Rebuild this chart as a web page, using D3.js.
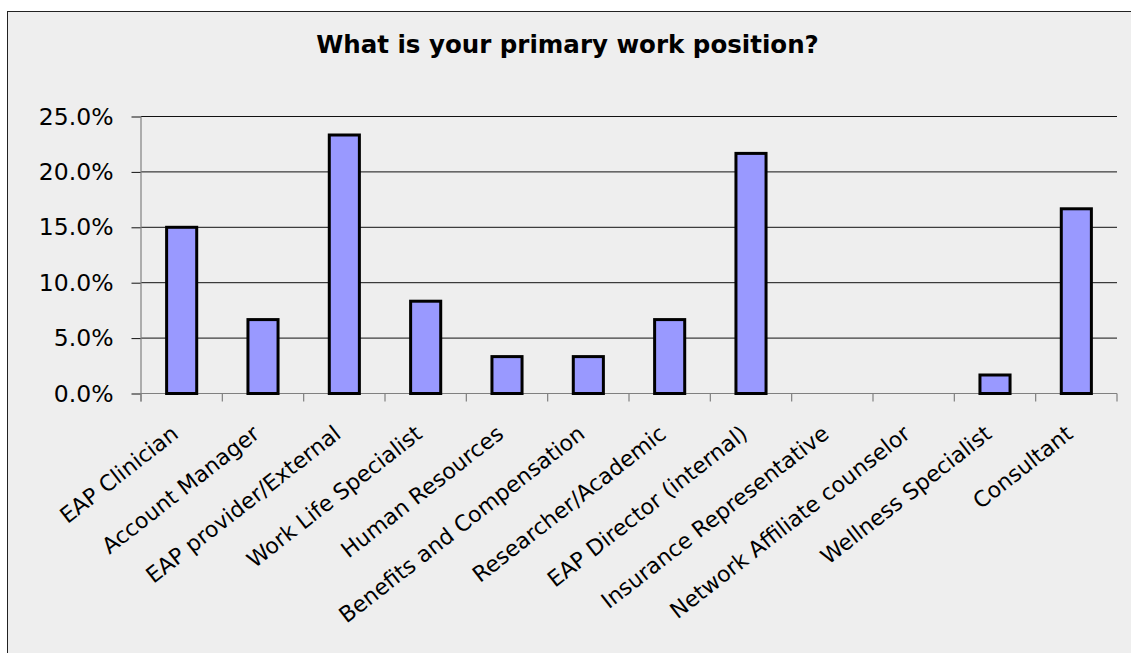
<!DOCTYPE html>
<html>
<head>
<meta charset="utf-8">
<script src="https://cdn.jsdelivr.net/npm/d3@7"></script>
<style>
  html, body { margin: 0; padding: 0; background: #ffffff; }
  svg { display: block; }
  text { font-family: "DejaVu Sans", Verdana, sans-serif; fill: #000; }
</style>
</head>
<body>
<svg id="chart" width="1131" height="653"></svg>
<script>
const title = "What is your primary work position?";
const categories = [
  "EAP Clinician", "Account Manager", "EAP provider/External", "Work Life Specialist",
  "Human Resources", "Benefits and Compensation", "Researcher/Academic", "EAP Director (internal)",
  "Insurance Representative", "Network Affiliate counselor", "Wellness Specialist", "Consultant"
];
const values = [15.0, 6.67, 23.33, 8.33, 3.33, 3.33, 6.67, 21.67, 0, 0, 1.67, 16.67];
const yTicks = [0, 5, 10, 15, 20, 25];

const svg = d3.select("#chart");
const W = 1131, H = 653;
const plot = { left: 141, right: 1117, top: 116.5, bottom: 393.5 };

// chart frame
svg.append("rect").attr("x", 7.5).attr("y", 11.5).attr("width", W).attr("height", H)
  .attr("fill", "#eeeeee").attr("stroke", "#222").attr("stroke-width", 1);

// title
svg.append("text").attr("x", 567.5).attr("y", 53)
  .attr("text-anchor", "middle").attr("font-weight", "bold").attr("font-size", 24.5)
  .text(title);

const x = d3.scaleBand().domain(categories).range([plot.left, plot.right]).paddingInner(0).paddingOuter(0);
const y = d3.scaleLinear().domain([0, 25]).range([plot.bottom, plot.top]);

// gridlines
svg.append("g").selectAll("line").data(yTicks.filter(d => d > 0)).join("line")
  .attr("x1", plot.left).attr("x2", plot.right)
  .attr("y1", d => y(d)).attr("y2", d => y(d))
  .attr("stroke", "#111").attr("stroke-width", 1);

// y axis
const yAxis = d3.axisLeft(y).tickValues(yTicks).tickSize(9.5).tickPadding(18)
  .tickFormat(d => d3.format(".1f")(d) + "%");
const gy = svg.append("g").attr("transform", `translate(${plot.left},0)`).call(yAxis);
gy.select(".domain").remove();
gy.selectAll(".tick line").attr("stroke", "#111");
gy.selectAll(".tick text").attr("font-size", 23.5)
  .attr("font-family", "DejaVu Sans, Verdana, sans-serif").attr("fill", "#000");
svg.append("line").attr("x1", plot.left).attr("x2", plot.left)
  .attr("y1", plot.top).attr("y2", plot.bottom + 8)
  .attr("stroke", "#808080").attr("stroke-width", 1.2);

// x axis line and ticks
svg.append("line").attr("x1", plot.left).attr("x2", plot.right)
  .attr("y1", plot.bottom).attr("y2", plot.bottom)
  .attr("stroke", "#808080").attr("stroke-width", 1.2);
const tickPos = categories.map(c => x(c)).concat([plot.right]);
svg.append("g").selectAll("line").data(tickPos).join("line")
  .attr("x1", d => d).attr("x2", d => d)
  .attr("y1", plot.bottom).attr("y2", plot.bottom + 8)
  .attr("stroke", "#808080").attr("stroke-width", 1.2);

// bars
const barW = x.bandwidth() * 0.37;
const data = categories.map((c, i) => ({ c, v: values[i] })).filter(d => d.v > 0);
svg.append("g").selectAll("rect").data(data).join("rect")
  .attr("x", d => x(d.c) + x.bandwidth() / 2 - barW / 2)
  .attr("y", d => y(d.v))
  .attr("width", barW)
  .attr("height", d => y(0) - y(d.v))
  .attr("fill", "#9999ff").attr("stroke", "#000").attr("stroke-width", 3);

// x labels
svg.append("g").selectAll("text").data(categories).join("text")
  .attr("transform", c => `translate(${x(c) + x.bandwidth() / 2 - 2},${plot.bottom + 43}) rotate(-38)`)
  .attr("text-anchor", "end").attr("font-size", 22)
  .text(c => c);
</script>
</body>
</html>
